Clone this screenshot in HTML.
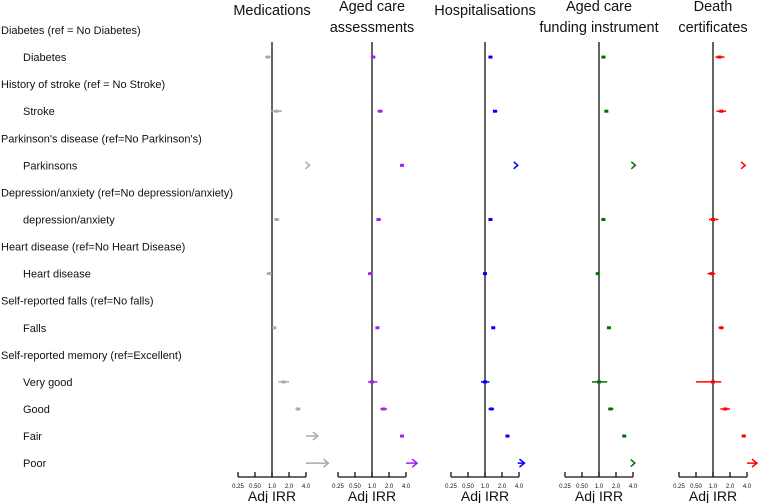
<!DOCTYPE html>
<html><head><meta charset="utf-8"><style>
body{margin:0;background:#fff;}
svg{display:block;font-family:"Liberation Sans",Arial,sans-serif;}
</style></head><body>
<svg id="chart" width="758" height="503" viewBox="0 0 758 503" xmlns="http://www.w3.org/2000/svg"></svg>
<script>
const rowLabels = ["Diabetes (ref = No Diabetes)","Diabetes","History of stroke (ref = No Stroke)","Stroke","Parkinson's disease (ref=No Parkinson's)","Parkinsons","Depression/anxiety (ref=No depression/anxiety)","depression/anxiety","Heart disease (ref=No Heart Disease)","Heart disease","Self-reported falls (ref=No falls)","Falls","Self-reported memory (ref=Excellent)","Very good","Good","Fair","Poor"];
const rowIsHeader = [1,0,1,0,1,0,1,0,1,0,1,0,1,0,0,0,0];
const panelTitles = [["Medications"],["Aged care","assessments"],["Hospitalisations"],["Aged care","funding instrument"],["Death","certificates"]];
const panelColors = ["#aaaaaa","#a020f0","#0000ff","#007000","#ff0000"];
const tickValues = [0.25,0.5,1,2,4];
const tickLabels = ["0.25","0.50","1.0","2.0","4.0"];
// data rows (non-header order): Diabetes, Stroke, Parkinsons, Depression, Heart, Falls, Very good, Good, Fair, Poor
// arrow flag: 0 none, 1 arrow line, 2 chevron only
const medEst = [0.85,1.2,4.6,1.2,0.9,1.1,1.6,2.9,5.0,7.0];
const medLo  = [0.75,0.95,4.3,1.1,0.8,1.0,1.3,2.6,4.0,4.0];
const medHi  = [0.95,1.5,4.6,1.35,1.0,1.2,2.0,3.2,6.5,10.0];
const medArr = [0,0,2,0,0,0,0,0,1,1];
const acaEst = [1.05,1.4,3.4,1.3,0.93,1.25,1.0,1.6,3.4,5.0];
const acaLo  = [0.95,1.25,3.2,1.2,0.85,1.15,0.85,1.4,3.2,4.0];
const acaHi  = [1.15,1.55,3.6,1.45,1.0,1.35,1.25,1.85,3.6,6.3];
const acaArr = [0,0,0,0,0,0,0,0,0,1];
const hosEst = [1.25,1.5,3.8,1.25,1.0,1.4,1.0,1.3,2.5,4.4];
const hosLo  = [1.15,1.4,3.5,1.15,0.95,1.3,0.85,1.15,2.35,3.8];
const hosHi  = [1.35,1.65,3.8,1.35,1.05,1.5,1.2,1.45,2.7,5.0];
const hosArr = [0,0,2,0,0,0,0,0,0,1];
const funEst = [1.2,1.35,4.4,1.2,0.95,1.5,1.0,1.6,2.8,4.3];
const funLo  = [1.1,1.25,4.0,1.1,0.9,1.4,0.75,1.45,2.6,4.0];
const funHi  = [1.3,1.45,4.4,1.3,1.0,1.6,1.4,1.8,3.0,4.3];
const funArr = [0,0,2,0,0,0,0,0,0,2];
const dthEst = [1.3,1.4,3.7,1.0,0.95,1.4,1.0,1.65,3.5,5.0];
const dthLo  = [1.1,1.15,3.5,0.85,0.8,1.25,0.5,1.35,3.3,4.0];
const dthHi  = [1.6,1.7,3.7,1.25,1.1,1.55,1.4,2.0,3.8,6.0];
const dthArr = [0,0,2,0,0,0,0,0,0,1];

const estAll=[medEst,acaEst,hosEst,funEst,dthEst], loAll=[medLo,acaLo,hosLo,funLo,dthLo], hiAll=[medHi,acaHi,hosHi,funHi,dthHi], arrAll=[medArr,acaArr,hosArr,funArr,dthArr];
const refX=[272,372,485,599,713];
const pxPerDoubling=17, axisY=477, topY=42;
function xScale(p,v){return refX[p]+Math.log2(v)*pxPerDoubling;}
function yRow(i){return 30+i*27.07;}
const NS="http://www.w3.org/2000/svg";
const svg=document.getElementById('chart');
function mk(tag,attrs,parent){const e=document.createElementNS(NS,tag);for(const k in attrs)e.setAttribute(k,attrs[k]);(parent||svg).appendChild(e);return e;}

rowLabels.forEach((t,i)=>{
  const e=mk('text',{x:rowIsHeader[i]?1:23,y:yRow(i)+4,'font-size':11,fill:'#111'});
  e.textContent=t;
  
  
});

const dataRows=[];rowIsHeader.forEach((h,i)=>{if(!h)dataRows.push(i);});

for(let p=0;p<5;p++){
  const g=mk('g',{});
  
  
  const cx=(xScale(p,0.25)+xScale(p,4))/2;
  panelTitles[p].forEach((t,k)=>{
    const ty = panelTitles[p].length===1 ? 15 : 11+k*21;
    const e=mk('text',{x:cx,y:ty,'font-size':14.5,'text-anchor':'middle',fill:'#111'},g);
    e.textContent=t;
    
    
  });
  const rl=mk('line',{x1:refX[p],x2:refX[p],y1:topY,y2:axisY,stroke:'#111','stroke-width':1.3},g);
  
  
  const ax=mk('line',{x1:xScale(p,0.25),x2:xScale(p,4),y1:axisY,y2:axisY,stroke:'#111','stroke-width':1.3},g);
  
  
  tickValues.forEach((v,k)=>{
    const x=xScale(p,v);
    const tk=mk('line',{x1:x,x2:x,y1:axisY,y2:axisY-5,stroke:'#111','stroke-width':1.3},g);
    
    
    const tl=mk('text',{x:x,y:488,'font-size':6,'text-anchor':'middle',fill:'#111'},g);
    tl.textContent=tickLabels[k];
    
    
  });
  const at=mk('text',{x:refX[p],y:501,'font-size':14,'text-anchor':'middle',fill:'#111'},g);
  at.textContent='Adj IRR';
  
  
  const col=panelColors[p];
  dataRows.forEach((ri,j)=>{
    const y=yRow(ri);
    const a=arrAll[p][j];
    const x1=xScale(p,loAll[p][j]), x2=xScale(p,hiAll[p][j]), xe=xScale(p,estAll[p][j]);
    if(a===2){
      const c=mk('path',{d:`M${xe-4},${y-3.5} L${xe},${y} L${xe-4},${y+3.5}`,fill:'none',stroke:col,'stroke-width':1.5},g);
      
      
      return;
    }
    const l=mk('line',{x1:x1,x2:x2,y1:y,y2:y,stroke:col,'stroke-width':1.5},g);
    
    
    if(a===1){
      const h=mk('path',{d:`M${x2-5},${y-4} L${x2},${y} L${x2-5},${y+4}`,fill:'none',stroke:col,'stroke-width':1.5},g);
      
      
    } else {
      const d=mk('rect',{x:xe-2,y:y-1.5,width:4,height:3,fill:col},g);
      
      
    }
  });
}
</script>
</body></html>
